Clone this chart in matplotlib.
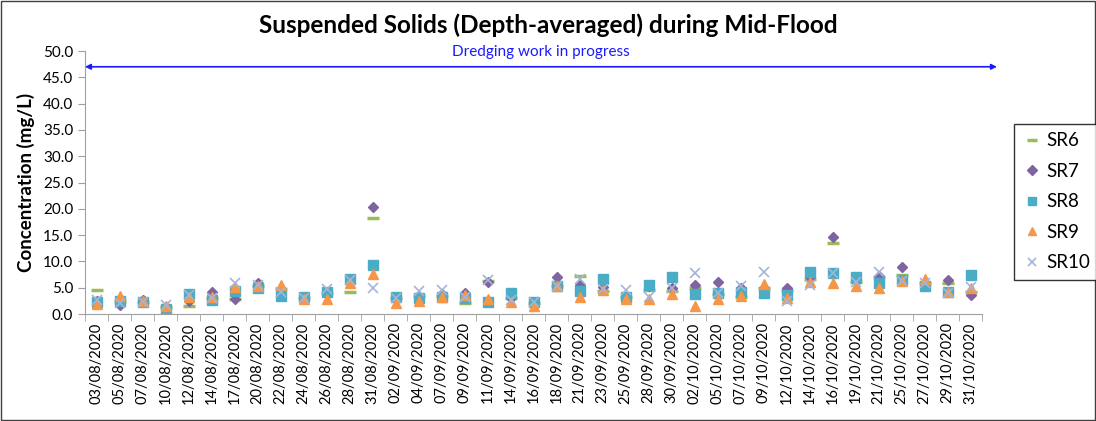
import numpy as np
import matplotlib.pyplot as plt
from matplotlib.patches import Rectangle

plt.rcParams['font.family'] = ['Lato', 'DejaVu Sans']

dates = ['03/08/2020', '05/08/2020', '07/08/2020', '10/08/2020', '12/08/2020',
         '14/08/2020', '17/08/2020', '20/08/2020', '22/08/2020', '24/08/2020',
         '26/08/2020', '28/08/2020', '31/08/2020', '02/09/2020', '04/09/2020',
         '07/09/2020', '09/09/2020', '11/09/2020', '14/09/2020', '16/09/2020',
         '18/09/2020', '21/09/2020', '23/09/2020', '25/09/2020', '28/09/2020',
         '30/09/2020', '02/10/2020', '05/10/2020', '07/10/2020', '09/10/2020',
         '12/10/2020', '14/10/2020', '16/10/2020', '19/10/2020', '21/10/2020',
         '25/10/2020', '27/10/2020', '29/10/2020', '31/10/2020']

sr6 = [4.6, 2.5, 2.3, 1.3, 1.5, 3.0, 2.9, 5.4, 4.8, 3.0,
       4.0, 4.2, 18.2, 3.0, 3.5, 3.5, 2.0, 6.2, 3.0, 2.0,
       5.3, 7.3, 4.4, 3.3, 4.6, 4.3, 5.0, 3.8, 3.2, 5.0,
       4.5, 6.6, 13.5, 6.0, 7.0, 7.4, 5.8, 5.8, 4.2]
sr7 = [2.5, 1.7, 2.6, 1.3, 2.5, 4.2, 2.8, 5.8, 4.0, 2.8,
       4.0, 6.2, 20.3, 3.0, 3.2, 3.8, 4.0, 6.1, 3.0, 2.0,
       7.0, 5.5, 5.2, 3.3, 5.3, 4.9, 5.5, 6.1, 5.0, 4.9,
       4.9, 7.1, 14.6, 6.2, 7.2, 8.9, 5.8, 6.5, 3.6]
sr8 = [2.3, 2.5, 2.2, 0.9, 3.8, 2.7, 4.4, 5.0, 3.4, 3.3,
       4.2, 6.6, 9.3, 3.3, 3.0, 3.3, 3.0, 2.3, 3.9, 2.3,
       5.3, 4.4, 6.6, 3.3, 5.5, 7.0, 3.8, 4.0, 4.2, 3.9,
       3.6, 8.0, 7.7, 7.0, 5.8, 6.5, 5.3, 4.2, 7.4]
sr9 = [1.9, 3.4, 2.4, 1.6, 3.2, 3.2, 5.2, 5.3, 5.5, 2.8,
       2.8, 5.9, 7.6, 2.0, 2.5, 3.2, 3.6, 2.8, 2.2, 1.5,
       5.3, 3.2, 4.5, 2.8, 2.8, 3.8, 1.5, 2.8, 3.4, 5.7,
       3.0, 6.1, 5.8, 5.3, 4.9, 6.2, 6.6, 4.2, 4.9]
sr10 = [2.7, 2.1, 2.2, 1.7, 3.6, 3.0, 5.8, 5.5, 4.2, 3.0,
        4.7, 6.4, 4.9, 3.0, 4.4, 4.6, 3.3, 6.5, 2.7, 2.3,
        5.3, 6.6, 4.8, 4.6, 3.3, 4.9, 7.7, 4.0, 5.3, 7.9,
        2.5, 5.6, 7.7, 6.1, 7.9, 6.3, 5.9, 3.9, 5.1]

x = np.arange(len(dates))

fig = plt.figure(figsize=(10.96, 4.21), dpi=100)
ax = fig.add_axes([85 / 1096, 1 - 314 / 421, (982 - 85) / 1096, (314 - 51) / 421])

ax.plot(x, sr6, ls='none', marker='_', ms=8, mew=2.5, color='#9BBB59', label='SR6')
ax.plot(x, sr7, ls='none', marker='D', ms=5.5, color='#8064A2', label='SR7')
ax.plot(x, sr8, ls='none', marker='s', ms=6.5, color='#4BACC6', label='SR8')
ax.plot(x, sr9, ls='none', marker='^', ms=7, color='#F79646', label='SR9')
ax.plot(x, sr10, ls='none', marker='x', ms=6.5, mew=1.2, color='#A3B5DA', label='SR10')

ax.set_xlim(-0.5, len(dates) - 0.5)
ax.set_ylim(0, 50)
ax.set_yticks(np.arange(0, 50.1, 5))
ax.set_yticklabels([f'{v:.1f}' for v in np.arange(0, 50.1, 5)], fontsize=11)
ax.set_xticks(x)
ax.set_xticklabels(dates, rotation=90, fontsize=10.5)
ax.set_xticks(np.arange(-0.5, len(dates)), minor=True)
ax.tick_params(axis='x', which='major', length=0, pad=6)
ax.tick_params(axis='x', which='minor', length=5, color='#A0A0A0', direction='out')
ax.tick_params(axis='y', length=5, color='#A0A0A0')
for side in ['top', 'right']:
    ax.spines[side].set_visible(False)
ax.spines['left'].set_color('#A0A0A0')
ax.spines['bottom'].set_color('#A0A0A0')

ax.set_ylabel('Concentration (mg/L)', fontsize=13.5, fontweight='bold', labelpad=6)
fig.text(548 / 1096, 1 - 25 / 421, 'Suspended Solids (Depth-averaged) during Mid-Flood',
         ha='center', va='center', fontsize=17.5, fontweight='bold')

# dredging period arrow across the whole record
ax.annotate('', xy=(39.15, 47), xytext=(-0.5, 47),
            arrowprops=dict(arrowstyle='<|-|>', color='#1A1AFF', lw=1.2,
                            mutation_scale=8, shrinkA=0, shrinkB=0),
            annotation_clip=False)
ax.text(19.3, 49.8, 'Dredging work in progress', color='#1A1AFF', fontsize=11,
        ha='center', va='center')

leg = fig.legend(loc='upper left', bbox_to_anchor=(1014 / 1096, 1 - 124 / 421),
                 borderaxespad=0, fontsize=13.5, frameon=True, fancybox=False,
                 edgecolor='black', handletextpad=0.3, labelspacing=0.72,
                 borderpad=0.45, handlelength=1.0, markerscale=0.85)
leg.get_frame().set_linewidth(1.0)

fig.patches.append(Rectangle((1 / 1096, 1 / 421), 1 - 2 / 1096, 1 - 2 / 421,
                             transform=fig.transFigure, fill=False,
                             edgecolor='#404040', lw=1.0))

fig.savefig('out.png', dpi=100)
